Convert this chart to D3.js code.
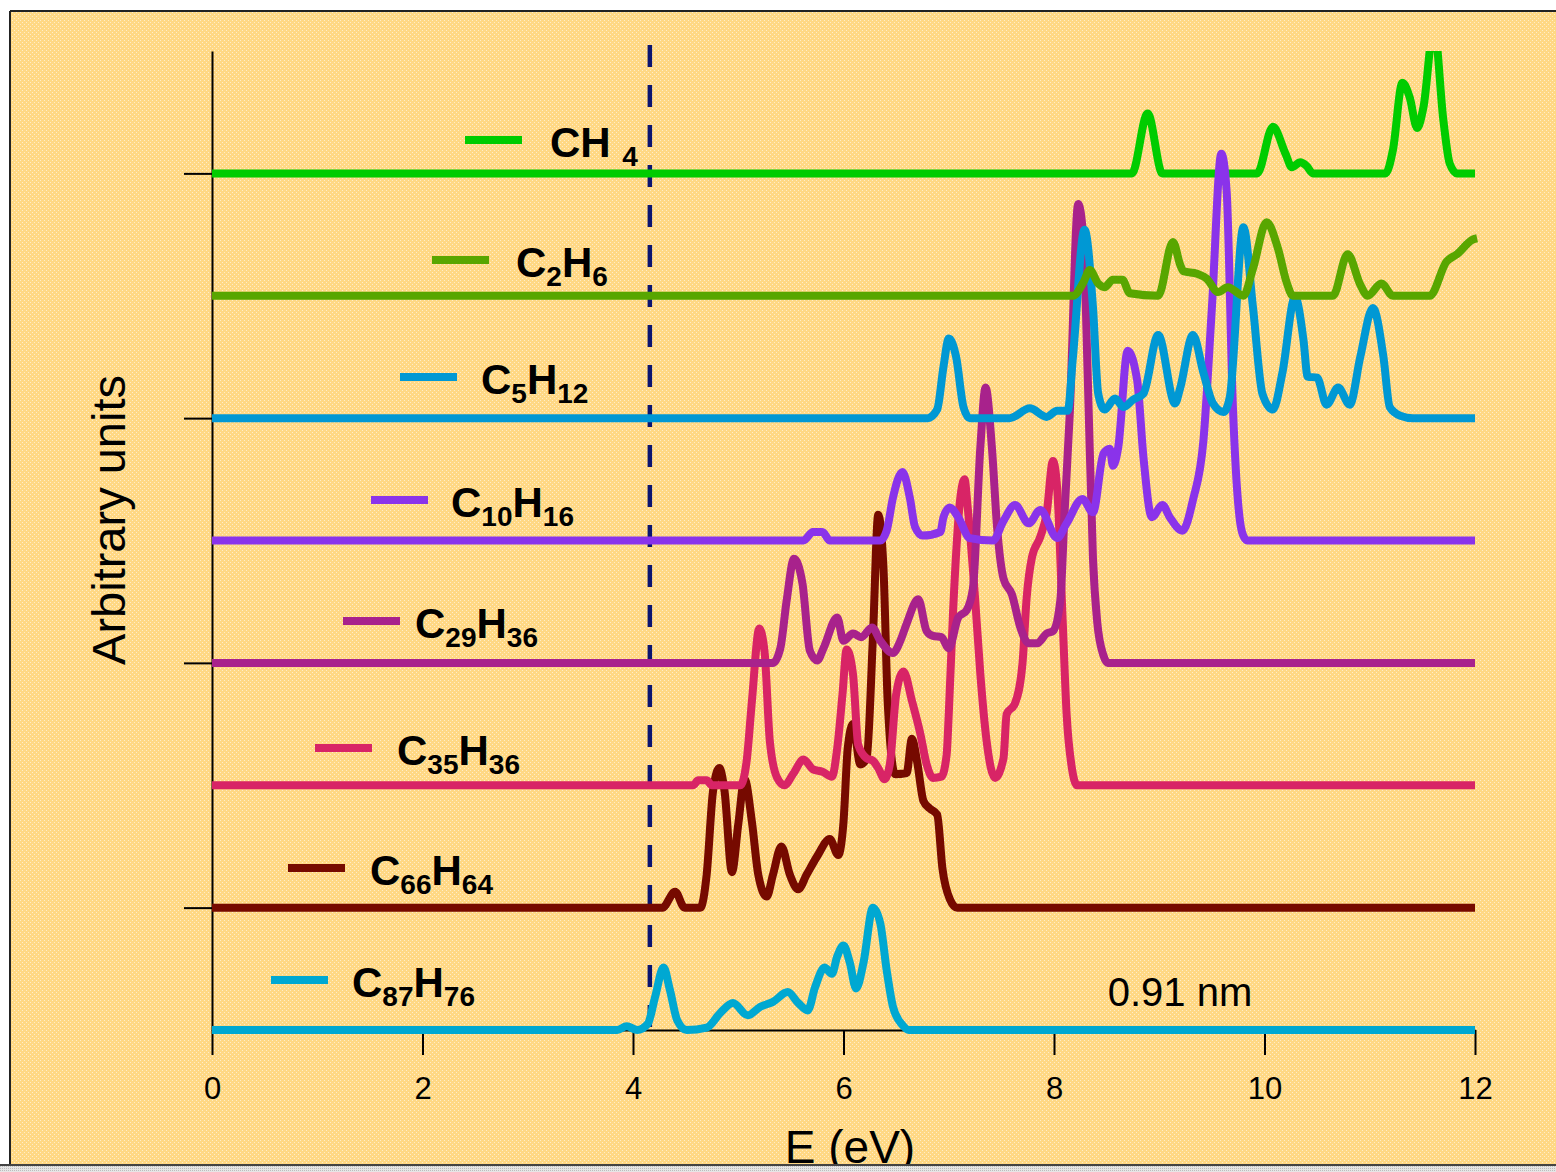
<!DOCTYPE html>
<html>
<head>
<meta charset="utf-8">
<script src="https://cdn.jsdelivr.net/npm/d3@7"></script>
<style>
  html, body { margin: 0; padding: 0; background: #ffffff; }
  svg { display: block; }
</style>
</head>
<body>
<svg id="chart" width="1556" height="1172"></svg>
<script>
// Spectra: [energy (eV), intensity in units of the vertical offset step]
const ch4 = [[0,0],[8.74,0],[8.89,0.49],[9.03,0],[9.93,0],[10.08,0.38],[10.20,0.16],[10.26,0.05],[10.34,0.09],[10.40,0.06],[10.46,0],[11.15,0],[11.22,0.19],[11.31,0.74],[11.38,0.62],[11.45,0.37],[11.51,0.54],[11.61,1.2],[11.70,0.43],[11.76,0.08],[11.83,0],[12,0]];
const c2h6 = [[0,0],[8.18,0],[8.28,0.11],[8.34,0.21],[8.42,0.10],[8.48,0.07],[8.56,0.13],[8.65,0.13],[8.72,0.02],[8.99,0],[9.13,0.44],[9.20,0.25],[9.23,0.20],[9.36,0.18],[9.45,0.14],[9.56,0.03],[9.65,0.07],[9.80,0],[9.89,0.22],[10.02,0.60],[10.13,0.38],[10.21,0.11],[10.27,0],[10.65,0],[10.79,0.34],[10.91,0.09],[10.98,0],[11.11,0.10],[11.22,0],[11.57,0],[11.73,0.28],[11.83,0.34],[11.98,0.46],[12.02,0.47]];
const c5h12 = [[0,0],[6.80,0],[6.89,0.07],[6.95,0.42],[7.00,0.65],[7.07,0.50],[7.14,0.09],[7.20,0],[7.58,0],[7.77,0.08],[7.93,0.01],[8.03,0.06],[8.13,0.06],[8.18,0.50],[8.29,1.54],[8.37,0.91],[8.42,0.20],[8.48,0.07],[8.58,0.16],[8.66,0.09],[8.75,0.15],[8.85,0.20],[8.99,0.68],[9.15,0.12],[9.20,0.25],[9.32,0.68],[9.42,0.37],[9.51,0.12],[9.61,0.05],[9.67,0.17],[9.80,1.56],[9.89,0.91],[9.98,0.20],[10.08,0.07],[10.17,0.37],[10.29,0.99],[10.37,0.64],[10.41,0.34],[10.50,0.33],[10.59,0.11],[10.70,0.25],[10.81,0.11],[10.91,0.50],[11.03,0.90],[11.13,0.50],[11.19,0.09],[11.29,0.02],[11.41,0],[12,0]];
const c10h16 = [[0,0],[5.62,0],[5.71,0.07],[5.80,0.07],[5.87,0],[6.35,0],[6.41,0.08],[6.47,0.35],[6.56,0.56],[6.63,0.35],[6.68,0.11],[6.75,0.04],[6.92,0.07],[6.95,0.19],[7.01,0.27],[7.09,0.19],[7.20,0.02],[7.42,0],[7.52,0.16],[7.63,0.29],[7.76,0.14],[7.87,0.25],[8.03,0.02],[8.12,0.14],[8.27,0.34],[8.37,0.23],[8.47,0.71],[8.53,0.75],[8.56,0.61],[8.61,0.76],[8.70,1.55],[8.79,1.31],[8.85,0.68],[8.93,0.19],[9.03,0.29],[9.10,0.19],[9.22,0.08],[9.32,0.33],[9.42,0.82],[9.50,1.90],[9.59,3.16],[9.64,2.86],[9.70,1.09],[9.77,0.14],[9.81,0.02],[9.84,0],[12,0]];
const c29h36 = [[0,0],[5.33,0],[5.40,0.12],[5.46,0.51],[5.53,0.85],[5.61,0.65],[5.68,0.10],[5.75,0.02],[5.81,0.12],[5.94,0.37],[6.00,0.18],[6.09,0.24],[6.17,0.21],[6.27,0.29],[6.35,0.18],[6.47,0.08],[6.54,0.18],[6.60,0.32],[6.71,0.52],[6.79,0.26],[6.85,0.22],[6.93,0.21],[7.00,0.12],[7.09,0.37],[7.17,0.43],[7.23,0.61],[7.30,1.76],[7.35,2.25],[7.41,1.76],[7.46,1.10],[7.52,0.69],[7.60,0.56],[7.68,0.29],[7.76,0.16],[7.84,0.16],[7.93,0.24],[7.99,0.26],[8.06,0.51],[8.10,1.22],[8.15,2.04],[8.23,3.75],[8.28,3.45],[8.32,2.36],[8.37,0.86],[8.41,0.34],[8.47,0.06],[8.51,0],[12,0]];
const c35h36 = [[0,0],[4.57,0],[4.62,0.04],[4.70,0.04],[4.75,0],[5.02,0],[5.08,0.20],[5.13,0.69],[5.20,1.28],[5.25,1.09],[5.30,0.36],[5.37,0.06],[5.44,0],[5.52,0.09],[5.62,0.21],[5.71,0.13],[5.80,0.11],[5.89,0.07],[5.94,0.30],[5.99,0.74],[6.03,1.11],[6.09,0.91],[6.14,0.33],[6.22,0.22],[6.28,0.20],[6.33,0.14],[6.39,0.05],[6.44,0.17],[6.50,0.74],[6.57,0.93],[6.65,0.69],[6.73,0.42],[6.79,0.17],[6.85,0.06],[6.93,0.07],[6.98,0.25],[7.00,0.58],[7.04,1.40],[7.11,2.35],[7.15,2.50],[7.18,2.27],[7.25,1.53],[7.30,0.91],[7.36,0.36],[7.44,0.06],[7.52,0.22],[7.55,0.58],[7.63,0.67],[7.70,0.99],[7.74,1.53],[7.79,1.86],[7.87,2.03],[7.93,2.22],[7.99,2.65],[8.03,2.43],[8.08,1.40],[8.12,0.58],[8.17,0.14],[8.22,0],[12,0]];
const c66h64 = [[0,0],[4.28,0],[4.40,0.13],[4.49,0],[4.64,0],[4.70,0.27],[4.76,0.95],[4.82,1.14],[4.87,0.95],[4.94,0.29],[5.00,0.68],[5.06,1.05],[5.13,0.70],[5.19,0.27],[5.27,0.09],[5.33,0.27],[5.41,0.50],[5.49,0.27],[5.57,0.15],[5.65,0.27],[5.75,0.42],[5.87,0.56],[5.95,0.43],[6.00,0.70],[6.04,1.30],[6.09,1.50],[6.16,1.17],[6.22,1.22],[6.28,2.22],[6.33,3.21],[6.38,2.77],[6.42,1.68],[6.49,1.09],[6.60,1.10],[6.65,1.38],[6.70,1.19],[6.76,0.87],[6.82,0.81],[6.89,0.76],[6.94,0.32],[7.01,0.07],[7.08,0],[12,0]];
const c87h76 = [[0,0],[3.85,0],[3.94,0.03],[4.04,0],[4.14,0.05],[4.21,0.27],[4.29,0.51],[4.35,0.33],[4.42,0.08],[4.51,0],[4.70,0.02],[4.83,0.14],[4.95,0.22],[5.09,0.12],[5.21,0.19],[5.33,0.23],[5.47,0.31],[5.57,0.22],[5.66,0.16],[5.73,0.35],[5.82,0.51],[5.89,0.46],[5.94,0.60],[6.00,0.69],[6.06,0.55],[6.12,0.34],[6.19,0.55],[6.28,1.00],[6.35,0.87],[6.41,0.49],[6.47,0.19],[6.56,0.04],[6.62,0],[12,0]];

const names   = ["CH 4", "C2H6", "C5H12", "C10H16", "C29H36", "C35H36", "C66H64", "C87H76"];
const spectra = [ch4, c2h6, c5h12, c10h16, c29h36, c35h36, c66h64, c87h76];
const offsets = [7, 6, 5, 4, 3, 2, 1, 0];
const colors  = ["#00cc00", "#58a600", "#0098d4", "#8a33ea", "#a8228c", "#d82466", "#760a00", "#00a8d2"];

const xTicks = [0, 2, 4, 6, 8, 10, 12];
const yTicks = [1, 3, 5, 7];
const gapEnergy = 4.16;          // dashed marker
const sizeLabel = "0.91 nm";

// legend placement: [segment start x, segment y, label x]
const legendLayout = [[465,140,550],[432,260,516],[400,377,481],[371,500,451],[343,621,415],[315,748,397],[288,868,370],[271,980,352]];

const svg = d3.select("#chart");
const defs = svg.append("defs");

// sparse light speckle over the orange backdrop
const pat = defs.append("pattern").attr("id", "bgDots")
  .attr("width", 4).attr("height", 4).attr("patternUnits", "userSpaceOnUse");
pat.append("rect").attr("x", 0).attr("y", 0).attr("width", 1).attr("height", 1)
  .attr("fill", "#ffffff").attr("fill-opacity", 0.55).attr("shape-rendering", "crispEdges");
pat.append("rect").attr("x", 2).attr("y", 2).attr("width", 1).attr("height", 1)
  .attr("fill", "#ffffff").attr("fill-opacity", 0.55).attr("shape-rendering", "crispEdges");

const bgrey = defs.append("pattern").attr("id", "greyDots")
  .attr("width", 2).attr("height", 2).attr("patternUnits", "userSpaceOnUse");
bgrey.append("rect").attr("width", 2).attr("height", 2).attr("fill", "#e6e6e6");
bgrey.append("rect").attr("width", 1).attr("height", 1).attr("fill", "#bdbdbd");

// backdrop
svg.append("rect").attr("x", 10).attr("y", 11).attr("width", 1546).attr("height", 1154).attr("fill", "#ffd884");
svg.append("rect").attr("x", 10).attr("y", 11).attr("width", 1546).attr("height", 1154).attr("fill", "url(#bgDots)");

const x = d3.scaleLinear().domain([0, 12]).range([212, 1475]);
const y = d3.scaleLinear().domain([0, 8]).range([1030, 51]);

defs.append("clipPath").attr("id", "plotClip")
  .append("rect").attr("x", 0).attr("y", y(8)).attr("width", 1556).attr("height", 1165 - y(8));

// axes
const xAxis = d3.axisBottom(x).tickValues(xTicks).tickSize(25).tickSizeOuter(0).tickPadding(22);
const gx = svg.append("g").attr("transform", `translate(0,${y(0)})`).call(xAxis);
gx.select(".domain").attr("stroke", "#000").attr("stroke-width", 2);
gx.selectAll(".tick line").attr("stroke", "#000").attr("stroke-width", 2);
gx.selectAll(".tick text").attr("fill", "#000")
  .style("font-family", "'Liberation Sans', Arial, Helvetica, sans-serif")
  .style("font-size", "31px");

const yAxis = d3.axisLeft(y).tickValues(yTicks).tickSize(28).tickSizeOuter(0).tickFormat("");
const gy = svg.append("g").attr("transform", `translate(${x(0)},0)`).call(yAxis);
gy.select(".domain").attr("stroke", "#000").attr("stroke-width", 2);
gy.selectAll(".tick line").attr("stroke", "#000").attr("stroke-width", 2);

// dashed energy marker
svg.append("line")
  .attr("x1", x(gapEnergy)).attr("x2", x(gapEnergy))
  .attr("y1", 45).attr("y2", y(0))
  .attr("stroke", "#0a1470").attr("stroke-width", 4.5)
  .attr("stroke-dasharray", "22 18");

// spectra
const line = d3.line()
  .x(d => x(d[0]))
  .curve(d3.curveMonotoneX);

const drawOrder = [0, 7, 6, 5, 4, 3, 2, 1];
const curves = svg.append("g").attr("clip-path", "url(#plotClip)");
drawOrder.forEach(i => {
  curves.append("path")
    .attr("d", line.y(d => y(d[1] + offsets[i]))(spectra[i]))
    .attr("fill", "none")
    .attr("stroke", colors[i])
    .attr("stroke-width", 8)
    .attr("stroke-linejoin", "round")
    .attr("stroke-linecap", "butt");
});

// legend
const legend = svg.append("g");
names.forEach((name, i) => {
  const [lx, ly, tx] = legendLayout[i];
  legend.append("line")
    .attr("x1", lx).attr("x2", lx + 57).attr("y1", ly).attr("y2", ly)
    .attr("stroke", colors[i]).attr("stroke-width", 8);
  const t = legend.append("text")
    .attr("x", tx).attr("y", ly + 17)
    .attr("fill", "#000")
    .style("font-family", "'Liberation Sans', Arial, Helvetica, sans-serif")
    .style("font-weight", "bold")
    .style("font-size", "42px");
  const parts = name.match(/[A-Z ]+|\d+/g);
  let low = false;
  parts.forEach(p => {
    const isNum = /^\d+$/.test(p);
    const ts = t.append("tspan").text(p);
    if (isNum && !low) { ts.attr("dy", 9).style("font-size", "28px"); low = true; }
    else if (isNum) { ts.style("font-size", "28px"); }
    else if (low) { ts.attr("dy", -9); low = false; }
  });
});

// annotations
const fontReg = "'Liberation Sans', Arial, Helvetica, sans-serif";
svg.append("text")
  .attr("x", 1180).attr("y", 1006)
  .attr("text-anchor", "middle")
  .style("font-family", fontReg).style("font-size", "40px")
  .text(sizeLabel);

svg.append("text")
  .attr("transform", "translate(125,520) rotate(-90)")
  .attr("text-anchor", "middle")
  .style("font-family", fontReg).style("font-size", "47px")
  .text("Arbitrary units");

svg.append("text")
  .attr("x", 850).attr("y", 1163)
  .attr("text-anchor", "middle")
  .style("font-family", fontReg).style("font-size", "46px")
  .text("E (eV)");

// frame lines, drawn last so the axis title is cut by the lower edge
svg.append("rect").attr("x", 0).attr("y", 1166).attr("width", 1556).attr("height", 6).attr("fill", "url(#greyDots)");
svg.append("line").attr("x1", 10).attr("x2", 1556).attr("y1", 11).attr("y2", 11).attr("stroke", "#222").attr("stroke-width", 2);
svg.append("line").attr("x1", 10).attr("x2", 10).attr("y1", 11).attr("y2", 1165).attr("stroke", "#222").attr("stroke-width", 2);
svg.append("line").attr("x1", 0).attr("x2", 1556).attr("y1", 1165).attr("y2", 1165).attr("stroke", "#444").attr("stroke-width", 2);
</script>
</body>
</html>
